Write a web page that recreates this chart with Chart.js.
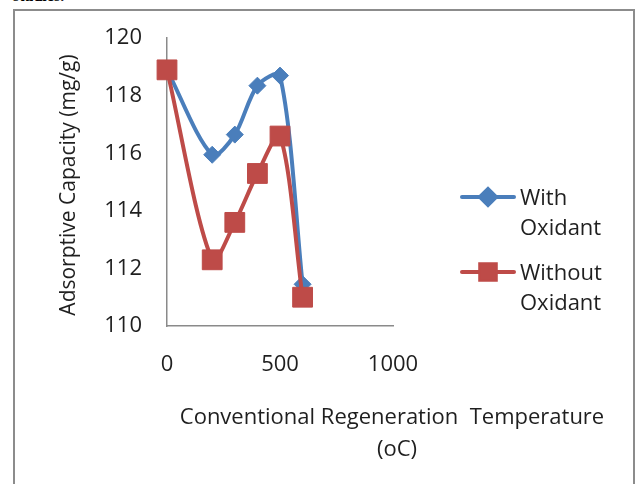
<!DOCTYPE html>
<html>
<head>
<meta charset="utf-8">
<script src="https://cdn.jsdelivr.net/npm/chart.js@4.4.1/dist/chart.umd.min.js"></script>
<style>
  body { margin: 0; background: #fff; width: 639px; height: 484px; overflow: hidden; position: relative; }
  #top-text { position: absolute; left: 13px; top: -13px; font: bold 16px "Liberation Serif", serif; color: #000; }
  #frame { position: absolute; left: 13px; top: 9px; width: 622px; height: 500px; border: 2px solid #8c8c8c; box-sizing: border-box; }
  #wrap { position: absolute; left: 0; top: 0; width: 639px; height: 484px; }
</style>
</head>
<body>
<div id="top-text">studies.</div>
<div id="frame"></div>
<div id="wrap"><canvas id="chart" width="639" height="484"></canvas></div>
<script>
// 再生温度 (oC)
const temps = [0, 200, 300, 400, 500, 600];
// 吸着容量 (mg/g)
const withOxidant = [118.9, 115.95, 116.65, 118.35, 118.7, 111.45];
const withoutOxidant = [118.9, 112.3, 113.6, 115.3, 116.6, 111.0];

const seriesNames = [['With', 'Oxidant'], ['Without', 'Oxidant']];
const yTitle = 'Adsorptive Capacity (mg/g)';
const xTitle = ['Conventional Regeneration  Temperature', '(oC)'];

const FONT = '"Open Sans", sans-serif';
const TEXT_COLOR = '#1f1f1f';
const BLUE = '#4a7ebb';
const RED = '#be4b48';

function toPoints(values) {
    return temps.map((t, i) => ({ x: t, y: values[i] }));
}

// 軸タイトルと凡例を自前で描く
const decorPlugin = {
    id: 'decor',
    afterDraw(chart) {
        const ctx = chart.ctx;
        ctx.save();
        ctx.fillStyle = TEXT_COLOR;
        ctx.font = '22px ' + FONT;

        // x軸タイトル
        ctx.textAlign = 'center';
        ctx.textBaseline = 'alphabetic';
        ctx.fillText(xTitle[0], 392, 424);
        ctx.fillText(xTitle[1], 397, 456);

        // y軸タイトル
        ctx.save();
        ctx.translate(75, 185);
        ctx.rotate(-Math.PI / 2);
        ctx.font = '21px ' + FONT;
        ctx.fillText(yTitle, 0, 0);
        ctx.restore();

        // 凡例
        const items = [
            { color: BLUE, style: 'rectRot', radius: 8, y: 197 },
            { color: RED, style: 'rect', radius: 11, y: 272 }
        ];
        items.forEach((item, i) => {
            ctx.strokeStyle = item.color;
            ctx.lineWidth = 4;
            ctx.lineCap = 'round';
            ctx.beginPath();
            ctx.moveTo(462, item.y);
            ctx.lineTo(514, item.y);
            ctx.stroke();
            ctx.fillStyle = item.color;
            Chart.helpers.drawPoint(ctx, { pointStyle: item.style, radius: item.radius, borderWidth: 1, rotation: 0 }, 488, item.y);
            ctx.fill();
            ctx.fillStyle = TEXT_COLOR;
            ctx.textAlign = 'left';
            ctx.fillText(seriesNames[i][0], 520, item.y + 8);
            ctx.fillText(seriesNames[i][1], 520, item.y + 38);
        });
        ctx.restore();
    }
};

const ctx = document.getElementById('chart').getContext('2d');
const chart = new Chart(ctx, {
    type: 'line',
    data: {
        datasets: [{
            label: 'With Oxidant',
            data: toPoints(withOxidant),
            borderColor: BLUE,
            backgroundColor: BLUE,
            borderWidth: 4,
            pointStyle: 'rectRot',
            pointRadius: 8.5,
            pointHoverRadius: 8.5,
            pointBorderWidth: 1,
            tension: 0.3,
            clip: false,
            order: 2
        }, {
            label: 'Without Oxidant',
            data: toPoints(withoutOxidant),
            borderColor: RED,
            backgroundColor: RED,
            borderWidth: 4,
            pointStyle: 'rect',
            pointRadius: 14,
            pointHoverRadius: 14,
            pointBorderWidth: 1,
            tension: 0.3,
            clip: false,
            order: 1
        }]
    },
    options: {
        responsive: false,
        animation: false,
        events: [],
        layout: { padding: { top: 37, left: 0, right: 246, bottom: 0 } },
        plugins: {
            legend: { display: false },
            tooltip: { enabled: false }
        },
        scales: {
            x: {
                type: 'linear',
                min: 0,
                max: 1000,
                grid: { display: false, drawTicks: false },
                border: { display: true, color: '#8a8a8a', width: 1.5 },
                ticks: {
                    stepSize: 500,
                    padding: 26,
                    maxRotation: 0,
                    color: TEXT_COLOR,
                    font: { family: FONT, size: 22 },
                    callback: (value) => String(value)
                },
                afterFit(scale) { scale.height = 158; }
            },
            y: {
                min: 110,
                max: 120,
                grid: { display: false, drawTicks: false },
                border: { display: true, color: '#8a8a8a', width: 1.5 },
                ticks: {
                    stepSize: 2,
                    padding: 25,
                    color: TEXT_COLOR,
                    font: { family: FONT, size: 22 }
                },
                afterFit(scale) { scale.width = 167; }
            }
        }
    },
    plugins: [decorPlugin]
});
</script>
</body>
</html>
